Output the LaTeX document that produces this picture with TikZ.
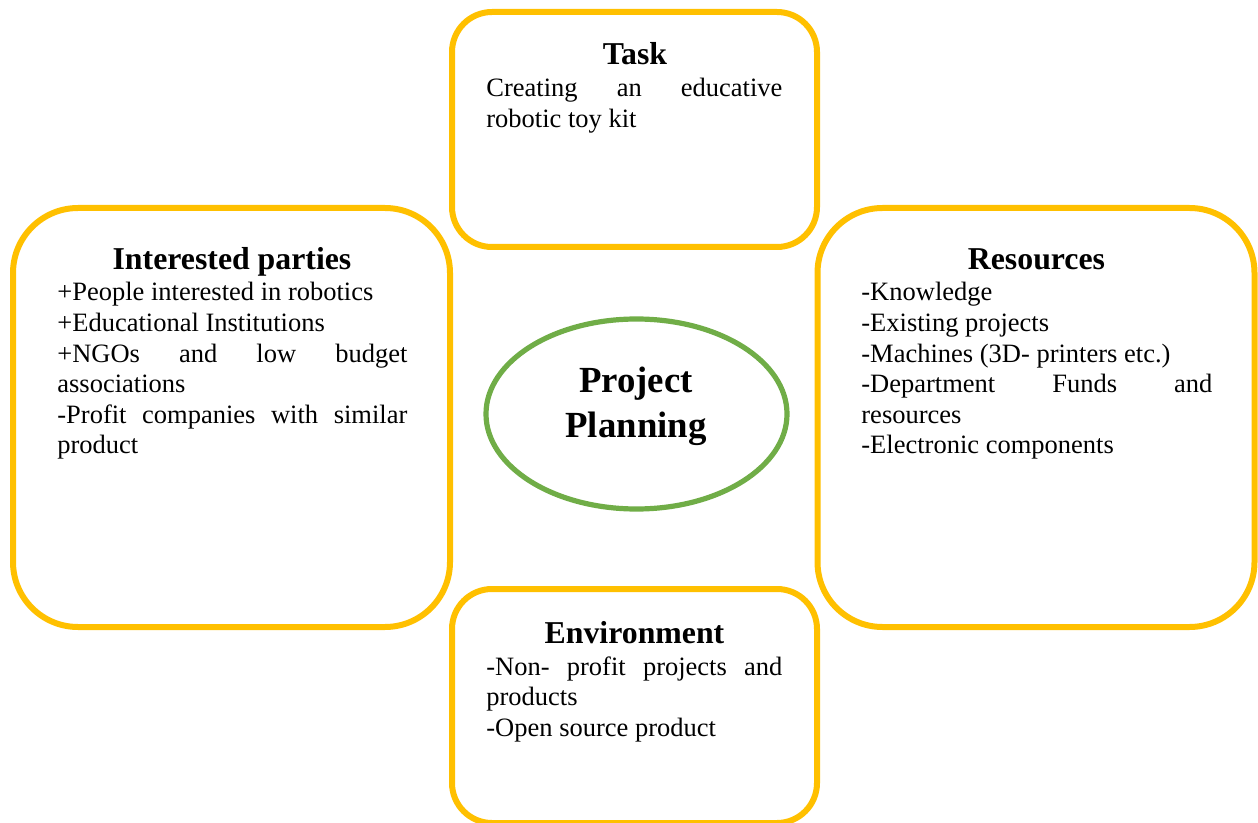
\documentclass[tikz,border=0pt]{standalone}
\usepackage{fontspec}
\setmainfont{Liberation Serif}
\usetikzlibrary{shapes.geometric}
\definecolor{boxyellow}{HTML}{FFC000}
\definecolor{ovalgreen}{HTML}{70AD47}
% justified list text, line breaks set by hand
\newcommand{\listpar}[2]{\parbox[t]{#1}{\fontsize{13.25}{15.3}\selectfont
    \tolerance=10000\hyphenpenalty=10000 #2}}
\tikzset{gbox/.style={
    rectangle,
    draw=boxyellow,
    line width=3pt,
    fill=white,
    inner sep=0pt
  },
  sbox/.style={gbox,rounded corners=20pt,minimum width=182.5pt,minimum height=117.5pt},
  lbox/.style={gbox,rounded corners=32.5pt,minimum width=218.5pt,minimum height=209.5pt},
  ovalbox/.style={ellipse,draw=ovalgreen,line width=2.6pt,fill=white,inner sep=0pt,
    minimum width=150.5pt,minimum height=95pt},
  headtext/.style={anchor=base,inner sep=0pt,font=\fontsize{15.9}{18}\selectfont\bfseries},
  listtext/.style={anchor=base west,inner sep=0pt},
}

\begin{document}
\begin{tikzpicture}[x=0.5pt,y=-0.5pt]
  \useasboundingbox (0,0) rectangle (1258,823);
  % outer boxes
  \node [sbox] (task) at (634.5,129.5) {};
  \node [lbox] (parties) at (231.5,417.5) {};
  \node [lbox] (resources) at (1036,417.5) {};
  \node [sbox,minimum height=117pt] (environment) at (634.5,706) {};
  % centre
  \node [ovalbox] (planning) at (636.5,414) {};
  \node [anchor=base,inner sep=0pt,font=\fontsize{18.4}{22.5}\selectfont\bfseries]
    (planninglabel) at (636,393) {\parbox[t]{140pt}{\centering Project\\Planning}};
  % task
  \node [headtext] (taskhead) at (635,65) {Task};
  \node [listtext] (tasklist) at (486,97)
    {\listpar{148pt}{Creating an educative\linebreak robotic toy kit}};
  % interested parties
  \node [headtext] (partieshead) at (232,270) {Interested parties};
  \node [listtext] (partieslist) at (57,301)
    {\listpar{175pt}{+People interested in robotics\\
      +Educational Institutions\\
      +NGOs and low budget\linebreak associations\\
      -Profit companies with similar\linebreak product}};
  % resources
  \node [headtext] (resourceshead) at (1036.5,270) {Resources};
  \node [listtext] (resourceslist) at (861,301)
    {\listpar{175.5pt}{-Knowledge\\
      -Existing projects\\
      -Machines (3D- printers etc.)\\
      -Department Funds and\linebreak resources\\
      -Electronic components}};
  % environment
  \node [headtext] (environmenthead) at (634.5,643) {Environment};
  \node [listtext] (environmentlist) at (486,675)
    {\listpar{148pt}{-Non- profit projects and\linebreak products\\
      -Open source product}};
\end{tikzpicture}
\end{document}
